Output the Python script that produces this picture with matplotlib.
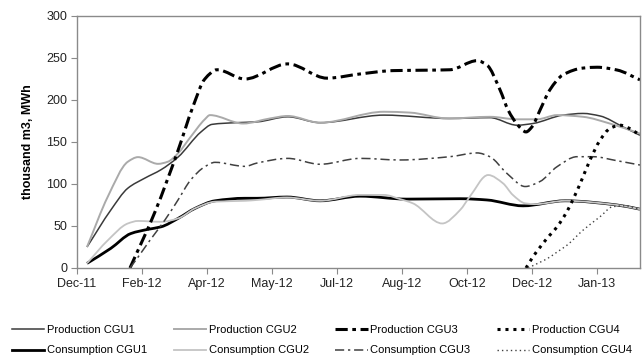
import numpy as np
import matplotlib
matplotlib.use('Agg')
import matplotlib.pyplot as plt
from matplotlib.path import Path
from matplotlib.patches import PathPatch
from matplotlib.lines import Line2D

plt.rcParams['font.family'] = ['Liberation Sans', 'DejaVu Sans']

# x in months from the first measurement
tick_labels = ['Dec-11', 'Feb-12', 'Apr-12', 'May-12', 'Jul-12', 'Aug-12',
               'Oct-12', 'Dec-12', 'Jan-13']

prod1_x = [0, 0.56, 0.96, 1.36, 1.74, 2.14, 2.68, 2.94, 3.50, 4.00, 4.72, 5.48,
           6.98, 8.53, 9.47, 10.11, 10.48, 11.19, 11.66, 12.06, 12.60, 13.00]
prod1_y = [25, 69, 95, 107, 117, 132, 162, 171, 173, 174, 180, 173,
           182, 178, 179, 170, 172, 182, 184, 181, 168, 158]

prod2_x = [0, 0.49, 0.96, 1.20, 1.67, 1.90, 2.14, 2.42, 2.77, 2.89, 3.67, 4.30,
           4.72, 5.48, 6.98, 7.59, 8.49, 9.47, 10.11, 10.58, 11.05, 11.66, 12.29, 13.00]
prod2_y = [25, 85, 126.5, 132, 124, 126.5, 136.5, 155, 177, 182, 172, 178,
           181, 173, 186, 185, 178, 180, 177, 177, 182, 180, 172, 160]

prod3_x = [1.01, 1.60, 2.14, 2.49, 2.77, 3.06, 3.71, 4.72, 5.64, 6.42, 7.20, 7.99,
           8.53, 9.17, 9.40, 9.71, 9.90, 10.13, 10.32, 10.46, 10.65, 10.88, 11.19,
           11.66, 11.99, 12.46, 13.00]
prod3_y = [0, 67, 140, 192, 225, 236, 225, 243, 226, 231, 235, 235.5,
           236, 246.8, 241.7, 212, 188, 170, 162, 168, 188, 212, 230,
           238, 239, 235.7, 224]

prod4_x = [10.32, 10.48, 10.81, 11.05, 11.28, 11.59, 11.82, 12.06, 12.29, 12.53, 12.76, 13.00]
prod4_y = [0, 13, 35, 49, 67, 100, 128, 152, 166, 170, 166, 158]

cons1_x = [0, 0.56, 1.03, 1.43, 1.74, 2.14, 2.54, 3.01, 3.71, 4.00, 4.70, 5.48,
           6.42, 7.52, 8.77, 9.40, 10.25, 11.24, 12.46, 13.00]
cons1_y = [5.5, 23.4, 41, 46, 49, 59, 71, 80, 83, 83, 84.5, 80,
           85.5, 82, 82.5, 81, 74, 80, 75, 70]

cons2_x = [0, 0.49, 0.96, 1.20, 1.74, 2.14, 2.54, 3.01, 3.71, 4.00, 4.70, 5.48,
           6.42, 6.98, 7.36, 7.66, 8.35, 8.77, 9.00, 9.43, 9.78, 10.01, 10.30,
           10.53, 11.24, 12.46, 13.00]
cons2_y = [5.5, 33, 53, 56, 55, 59, 71, 79, 80, 81, 84, 80,
           87, 87, 82, 77, 53, 69, 85, 110.7, 100.8, 87, 77,
           76, 80, 75, 70]

cons3_x = [1.01, 1.20, 1.48, 1.83, 2.14, 2.44, 2.77, 3.01, 3.71, 4.00, 4.72, 5.48,
           6.42, 7.36, 8.53, 9.17, 9.47, 9.87, 10.30, 10.65, 11.05, 11.52, 11.89,
           12.46, 13.00]
cons3_y = [0, 13, 33, 57, 81, 105, 120.6, 125.8, 121, 125, 130.5, 123.5,
           130.5, 128.6, 132.5, 137, 132.5, 112.7, 97, 103, 120.6, 132.5, 132.5,
           127.7, 122.6]

cons4_x = [10.37, 10.88, 11.05, 11.28, 11.66, 12.06, 12.36, 12.65, 13.00]
cons4_y = [0, 13, 19, 27, 45, 61, 73, 74, 70]


def smooth_path(x, y):
    # monotone cubic (pchip) segments written as bezier curves
    x = np.asarray(x, float)
    y = np.asarray(y, float)
    h = np.diff(x)
    d = np.diff(y) / h
    m = np.zeros_like(y)
    m[0], m[-1] = d[0], d[-1]
    for k in range(1, len(x) - 1):
        if d[k - 1] * d[k] <= 0:
            m[k] = 0
        else:
            w1 = 2 * h[k] + h[k - 1]
            w2 = h[k] + 2 * h[k - 1]
            m[k] = (w1 + w2) / (w1 / d[k - 1] + w2 / d[k])
    verts = [(x[0], y[0])]
    codes = [Path.MOVETO]
    for k in range(len(x) - 1):
        verts += [(x[k] + h[k] / 3, y[k] + m[k] * h[k] / 3),
                  (x[k + 1] - h[k] / 3, y[k + 1] - m[k + 1] * h[k] / 3),
                  (x[k + 1], y[k + 1])]
        codes += [Path.CURVE4] * 3
    return Path(verts, codes)


series = [
    ('Production CGU1', prod1_x, prod1_y, dict(color='#3a3a3a', lw=1.1, ls='-')),
    ('Consumption CGU1', cons1_x, cons1_y, dict(color='black', lw=2.0, ls='-')),
    ('Production CGU2', prod2_x, prod2_y, dict(color='#aaaaaa', lw=1.4, ls='-')),
    ('Consumption CGU2', cons2_x, cons2_y, dict(color='#c4c4c4', lw=1.3, ls='-')),
    ('Production CGU3', prod3_x, prod3_y, dict(color='black', lw=2.2, ls=(0, (4, 1.5, 1.2, 1.5)))),
    ('Consumption CGU3', cons3_x, cons3_y, dict(color='#404040', lw=1.1, ls=(0, (6, 2.5, 1.5, 2.5)))),
    ('Production CGU4', prod4_x, prod4_y, dict(color='black', lw=2.2, ls=(0, (1, 1.6)))),
    ('Consumption CGU4', cons4_x, cons4_y, dict(color='#404040', lw=1.0, ls=(0, (1, 2.2)))),
]

fig = plt.figure(figsize=(6.44, 3.6), dpi=100)
ax = fig.add_axes([77 / 644, 1 - 268 / 360, (640 - 77) / 644, (268 - 16) / 360])

handles = []
for name, xs, ys, st in series:
    ax.add_patch(PathPatch(smooth_path(xs, ys), fill=False, edgecolor=st['color'],
                           linewidth=st['lw'], linestyle=st['ls'], capstyle='butt'))
    handles.append(Line2D([], [], color=st['color'], lw=st['lw'], ls=st['ls'],
                          dash_capstyle='butt', label=name))

x0, step = -0.235, 1.528
ax.set_xlim(x0, 13.0)
ax.set_ylim(0, 300)
ax.set_xticks(x0 + step * np.arange(len(tick_labels)))
ax.set_xticklabels(tick_labels)
ax.set_yticks(np.arange(0, 301, 50))
for sp in ax.spines.values():
    sp.set_color('#8a8a8a')
    sp.set_linewidth(1.0)
ax.tick_params(direction='out', length=4, color='#8a8a8a', labelsize=9,
               labelcolor='#222222', pad=3)
ax.set_ylabel('thousand m3, MWh', fontsize=9, fontweight='bold', labelpad=9)

fig.legend(handles=handles, loc='lower center', bbox_to_anchor=(0.5, -0.012),
           ncol=4, frameon=False, fontsize=8, handlelength=2.9,
           handletextpad=0.25, columnspacing=2.4, labelspacing=0.95,
           borderpad=0.3)

fig.savefig('out.png', dpi=100)
